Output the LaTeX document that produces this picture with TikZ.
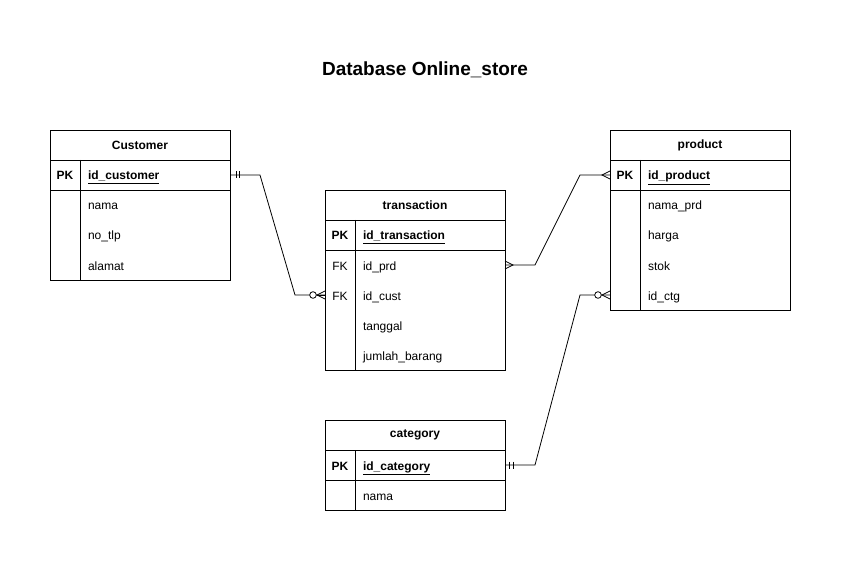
\documentclass[tikz,border=0pt]{standalone}
\usepackage{fontspec}
\setmainfont{Liberation Sans}
\usepackage{tikz}
\usetikzlibrary{positioning}

\tikzset{
  hdr/.style={draw, minimum width=180pt, minimum height=30pt, inner sep=0pt, outer sep=0pt, font=\fontsize{12}{14}\selectfont\bfseries},
  keycell/.style={minimum width=30pt, minimum height=30pt, inner sep=0pt, outer sep=0pt, text height=10pt, text depth=0pt, font=\fontsize{12}{14}\selectfont},
  fld/.style={text width=134pt, inner xsep=8pt, inner ysep=0pt, minimum height=30pt, outer sep=0pt, align=left, anchor=west, text height=10pt, text depth=0pt, font=\fontsize{12}{14}\selectfont},
  rel/.style={line width=0.8pt},
  ermark/.style={line width=0.8pt}
}

\begin{document}
\begin{tikzpicture}[x=1pt, y=-1pt]
  \useasboundingbox (0,0) rectangle (842,561);

  \node[font=\fontsize{19}{22}\selectfont\bfseries] (title) at (425,70) {Database Online\_store};

  % Customer
  \node[hdr] (cust) at (140,145) {Customer};
  \node[keycell, anchor=north west] (cust-pk) at (cust.south west) {\bfseries PK};
  \node[fld] (cust-id) at (cust-pk.east) {\bfseries\underline{id\_customer}};
  \node[keycell, below=0pt of cust-pk] (cust-k1) {};
  \node[fld] (cust-nama) at (cust-k1.east) {nama};
  \node[keycell, below=0pt of cust-k1] (cust-k2) {};
  \node[fld] (cust-tlp) at (cust-k2.east) {no\_tlp};
  \node[keycell, below=0pt of cust-k2] (cust-k3) {};
  \node[fld] (cust-alamat) at (cust-k3.east) {alamat};
  \draw (cust.south west) rectangle (cust-alamat.south east);
  \draw (cust-pk.south west) -- (cust-id.south east);
  \draw (cust-pk.north east) -- (cust-k3.south east);

  % transaction
  \node[hdr] (tr) at (415,205) {transaction};
  \node[keycell, anchor=north west] (tr-pk) at (tr.south west) {\bfseries PK};
  \node[fld] (tr-id) at (tr-pk.east) {\bfseries\underline{id\_transaction}};
  \node[keycell, below=0pt of tr-pk] (tr-fk1) {FK};
  \node[fld] (tr-prd) at (tr-fk1.east) {id\_prd};
  \node[keycell, below=0pt of tr-fk1] (tr-fk2) {FK};
  \node[fld] (tr-cust) at (tr-fk2.east) {id\_cust};
  \node[keycell, below=0pt of tr-fk2] (tr-k3) {};
  \node[fld] (tr-tgl) at (tr-k3.east) {tanggal};
  \node[keycell, below=0pt of tr-k3] (tr-k4) {};
  \node[fld] (tr-jml) at (tr-k4.east) {jumlah\_barang};
  \draw (tr.south west) rectangle (tr-jml.south east);
  \draw (tr-pk.south west) -- (tr-id.south east);
  \draw (tr-pk.north east) -- (tr-k4.south east);

  % product
  \node[hdr] (prod) at (700,145) {product};
  \node[keycell, anchor=north west] (prod-pk) at (prod.south west) {\bfseries PK};
  \node[fld] (prod-id) at (prod-pk.east) {\bfseries\underline{id\_product}};
  \node[keycell, below=0pt of prod-pk] (prod-k1) {};
  \node[fld] (prod-nama) at (prod-k1.east) {nama\_prd};
  \node[keycell, below=0pt of prod-k1] (prod-k2) {};
  \node[fld] (prod-harga) at (prod-k2.east) {harga};
  \node[keycell, below=0pt of prod-k2] (prod-k3) {};
  \node[fld] (prod-stok) at (prod-k3.east) {stok};
  \node[keycell, below=0pt of prod-k3] (prod-k4) {};
  \node[fld] (prod-ctg) at (prod-k4.east) {id\_ctg};
  \draw (prod.south west) rectangle (prod-ctg.south east);
  \draw (prod-pk.south west) -- (prod-id.south east);
  \draw (prod-pk.north east) -- (prod-k4.south east);

  % category
  \node[hdr] (cat) at (415,435) {category};
  \node[keycell, anchor=north west] (cat-pk) at (cat.south west) {\bfseries PK};
  \node[fld] (cat-id) at (cat-pk.east) {\bfseries\underline{id\_category}};
  \node[keycell, below=0pt of cat-pk] (cat-k1) {};
  \node[fld] (cat-nama) at (cat-k1.east) {nama};
  \draw (cat.south west) rectangle (cat-nama.south east);
  \draw (cat-pk.south west) -- (cat-id.south east);
  \draw (cat-pk.north east) -- (cat-k1.south east);

  % relations
  \draw[rel] (cust-id.east) -- ++(30,0) -- ([xshift=-30pt]tr-fk2.west) -- (tr-fk2.west);
  \draw[rel] (tr-prd.east) -- ++(30,0) -- ([xshift=-30pt]prod-pk.west) -- (prod-pk.west);
  \draw[rel] (cat-id.east) -- ++(30,0) -- ([xshift=-30pt]prod-k4.west) -- (prod-k4.west);

  % customer: one and only one
  \draw[ermark] ([xshift=6pt]cust-id.east) ++(0,-3.5) -- ++(0,7);
  \draw[ermark] ([xshift=9pt]cust-id.east) ++(0,-3.5) -- ++(0,7);
  % transaction: zero or many
  \draw[ermark, fill=white] ([xshift=-12pt]tr-fk2.west) circle (3.3pt);
  \draw[ermark] (tr-fk2.west) ++(0,-4) -- ++(-8,4) -- ++(8,4);
  \draw[ermark] (tr-fk2.west) -- ++(-8,0);
  % transaction: many
  \draw[ermark] (tr-prd.east) ++(0,-4) -- ++(8,4) -- ++(-8,4);
  % product: many
  \draw[ermark] (prod-pk.west) ++(0,-4) -- ++(-8,4) -- ++(8,4);
  % category: one and only one
  \draw[ermark] ([xshift=4pt]cat-id.east) ++(0,-3.5) -- ++(0,7);
  \draw[ermark] ([xshift=8pt]cat-id.east) ++(0,-3.5) -- ++(0,7);
  % product: zero or many
  \draw[ermark, fill=white] ([xshift=-12pt]prod-k4.west) circle (3.3pt);
  \draw[ermark] (prod-k4.west) ++(0,-4) -- ++(-8,4) -- ++(8,4);
\end{tikzpicture}
\end{document}
